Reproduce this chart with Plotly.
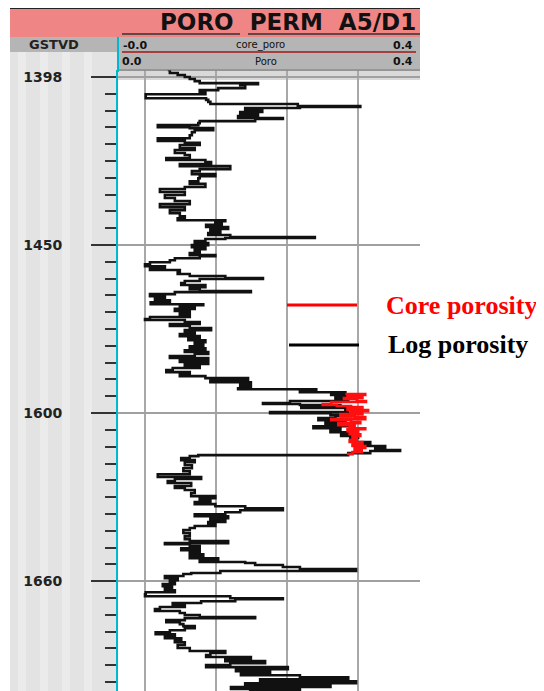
import plotly.graph_objects as go

# ---------------- data ----------------
log_depth = [
    1397.9, 1398.8, 1399.4, 1400.0, 1400.6, 1401.2, 1401.8, 1402.1, 1402.4, 1403.3,
    1403.9, 1404.5, 1405.1, 1405.4, 1406.3, 1406.8, 1407.4, 1408.0, 1408.6, 1408.9,
    1409.2, 1409.8, 1410.4, 1411.0, 1411.6, 1412.2, 1412.5, 1413.1, 1413.7, 1414.3,
    1414.9, 1415.2, 1415.8, 1416.4, 1417.3, 1418.2, 1419.0, 1419.6, 1420.2, 1421.1,
    1421.7, 1422.6, 1423.2, 1424.1, 1424.7, 1425.3, 1425.9, 1426.5, 1427.4, 1428.0,
    1428.9, 1429.5, 1430.1, 1431.0, 1431.8, 1432.7, 1433.3, 1434.2, 1435.1, 1436.0,
    1436.9, 1437.8, 1438.7, 1439.6, 1440.5, 1441.4,
    1442.0, 1442.6, 1442.9, 1443.5, 1444.0, 1444.6, 1445.2, 1445.8, 1446.4, 1447.0,
    1447.6, 1447.9, 1448.2, 1448.8, 1449.4, 1450.0, 1450.6, 1451.2, 1451.8, 1452.4,
    1453.0, 1453.3, 1453.9, 1454.5, 1455.1, 1455.7, 1456.3, 1456.8, 1457.4, 1458.0,
    1458.6, 1459.2, 1459.8, 1460.1, 1460.7, 1461.3, 1461.9, 1462.5, 1463.1, 1463.7,
    1464.0, 1464.6, 1465.2, 1465.8, 1466.4, 1467.0, 1467.6, 1467.9, 1468.5, 1469.0,
    1469.6, 1470.2, 1470.8, 1471.4, 1472.0, 1472.3, 1472.9, 1473.5, 1474.1, 1474.7,
    1475.3, 1475.9, 1476.5, 1477.1, 1477.7, 1478.3, 1478.9, 1479.5, 1480.1, 1480.7,
    1481.3, 1481.8, 1482.4, 1483.0, 1483.6, 1484.2, 1484.8,
    1485.4, 1486.0, 1486.6, 1487.2, 1487.8, 1488.4, 1489.0, 1489.6, 1490.2, 1490.8,
    1491.4, 1492.0, 1492.6, 1492.9, 1493.2, 1493.8, 1494.0, 1494.6, 1495.2, 1495.8,
    1496.4, 1497.0, 1497.3, 1497.6, 1497.9, 1498.5, 1498.8, 1499.1, 1499.7, 1500.0,
    1500.6, 1500.9, 1501.5, 1502.1, 1502.7, 1503.3, 1503.9, 1504.5, 1505.1, 1505.7,
    1506.3, 1506.8, 1507.4, 1508.0, 1508.6, 1509.2, 1509.8, 1510.4, 1511.0, 1511.3,
    1511.9, 1512.5, 1512.8, 1513.4, 1514.0, 1514.6, 1515.5, 1516.4, 1517.3, 1518.2,
    1519.0, 1519.6, 1520.2, 1520.8, 1521.7, 1522.3, 1522.9, 1523.8, 1524.7, 1525.3,
    1525.9, 1526.5, 1527.1, 1527.7, 1528.3, 1528.9, 1529.5,
    1530.1, 1530.7, 1531.3, 1531.8, 1532.4, 1533.0, 1533.6, 1534.2, 1534.8, 1535.7,
    1536.6, 1537.5, 1538.1, 1538.7, 1539.0, 1539.6, 1540.2, 1540.8, 1541.4, 1542.0,
    1542.6, 1543.2, 1543.8, 1544.3, 1544.6, 1545.2, 1545.8, 1546.4, 1547.0, 1547.6,
    1547.9, 1548.5, 1549.1, 1549.7, 1550.3, 1550.9, 1551.5, 1552.1, 1552.7, 1553.3,
    1553.9, 1554.5, 1555.1, 1555.4, 1556.0, 1556.5, 1557.1, 1557.7, 1558.3, 1558.9,
    1559.5, 1560.1, 1560.7, 1561.0, 1561.6, 1562.2, 1562.8, 1563.4, 1564.0, 1564.6,
    1565.2, 1565.8, 1566.4, 1567.0, 1567.6, 1568.2, 1569.0, 1569.9, 1570.8, 1571.4,
    1572.0, 1572.6, 1573.2, 1573.8, 1574.4, 1575.0, 1575.6, 1576.2, 1576.8, 1577.4,
    1578.0, 1578.6, 1579.2, 1579.8, 1580.4, 1581.0, 1581.5, 1582.1, 1582.7, 1583.3,
]
log_poro = [
    0.032, 0.035, 0.046, 0.056, 0.063, 0.070, 0.077, 0.159, 0.134, 0.141,
    0.103, 0.077, 0.085, 0.001, 0.001, 0.086, 0.089, 0.092, 0.215, 0.303,
    0.218, 0.141, 0.165, 0.134, 0.159, 0.131, 0.194, 0.155, 0.077, 0.075,
    0.018, 0.063, 0.096, 0.070, 0.066, 0.063, 0.018, 0.056, 0.077, 0.049,
    0.070, 0.042, 0.056, 0.063, 0.030, 0.085, 0.093, 0.049, 0.120, 0.077,
    0.066, 0.099, 0.077, 0.075, 0.063, 0.085, 0.056, 0.021, 0.056, 0.028,
    0.042, 0.063, 0.021, 0.056, 0.035, 0.049,
    0.056, 0.046, 0.113, 0.099, 0.108, 0.086, 0.117, 0.092, 0.106, 0.089,
    0.120, 0.239, 0.113, 0.085, 0.070, 0.089, 0.066, 0.085, 0.070, 0.077,
    0.063, 0.099, 0.077, 0.042, 0.035, 0.007, 0.000, 0.028, 0.007, 0.049,
    0.046, 0.063, 0.113, 0.166, 0.077, 0.056, 0.051, 0.085, 0.063, 0.077,
    0.149, 0.042, 0.007, 0.028, 0.014, 0.035, 0.008, 0.082, 0.049, 0.070,
    0.042, 0.063, 0.049, 0.063, 0.007, 0.000, 0.056, 0.077, 0.035, 0.063,
    0.093, 0.056, 0.070, 0.049, 0.077, 0.061, 0.085, 0.070, 0.082, 0.063,
    0.085, 0.056, 0.089, 0.070, 0.035, 0.089, 0.049,
    0.089, 0.056, 0.077, 0.039, 0.030, 0.063, 0.049, 0.085, 0.145, 0.092,
    0.149, 0.134, 0.149, 0.131, 0.241, 0.218, 0.282, 0.262, 0.290, 0.268,
    0.286, 0.204, 0.166, 0.218, 0.275, 0.220, 0.300, 0.282, 0.286, 0.176,
    0.261, 0.290, 0.268, 0.244, 0.282, 0.254, 0.289, 0.237, 0.275, 0.261,
    0.290, 0.276, 0.300, 0.289, 0.296, 0.317, 0.303, 0.338, 0.324, 0.359,
    0.317, 0.286, 0.075, 0.063, 0.051, 0.070, 0.056, 0.066, 0.054, 0.063,
    0.018, 0.079, 0.042, 0.032, 0.065, 0.042, 0.056, 0.070, 0.065, 0.099,
    0.077, 0.092, 0.070, 0.099, 0.141, 0.194, 0.134,
    0.113, 0.070, 0.117, 0.092, 0.113, 0.089, 0.099, 0.070, 0.063, 0.054,
    0.063, 0.056, 0.063, 0.117, 0.028, 0.063, 0.077, 0.051, 0.077, 0.063,
    0.082, 0.063, 0.103, 0.077, 0.141, 0.155, 0.194, 0.218, 0.297, 0.106,
    0.065, 0.054, 0.028, 0.046, 0.035, 0.042, 0.025, 0.038, 0.028, 0.042,
    0.001, 0.000, 0.120, 0.194, 0.127, 0.079, 0.039, 0.056, 0.021, 0.014,
    0.049, 0.056, 0.077, 0.155, 0.056, 0.030, 0.049, 0.054, 0.070, 0.056,
    0.035, 0.015, 0.042, 0.028, 0.051, 0.042, 0.056, 0.046, 0.063, 0.113,
    0.092, 0.086, 0.149, 0.113, 0.169, 0.120, 0.086, 0.201, 0.128, 0.176,
    0.135, 0.218, 0.286, 0.162, 0.297, 0.141, 0.261, 0.121, 0.218, 0.148,
]

core_depth = [
    1494.3, 1494.6, 1494.9, 1495.5, 1495.8, 1496.4, 1496.7, 1497.3, 1497.6, 1497.9,
    1498.2, 1498.5, 1499.1, 1499.4, 1500.0, 1500.3, 1500.9, 1501.2, 1501.8, 1502.1,
    1502.7, 1503.0, 1503.6, 1503.9, 1504.5, 1504.8, 1505.4, 1505.7, 1506.3, 1506.8,
    1507.4, 1508.0, 1508.6, 1509.2, 1509.8, 1510.4, 1511.0, 1511.6, 1512.2, 1512.5,
]
core_poro = [
    0.282, 0.310, 0.285, 0.306, 0.280, 0.298, 0.311, 0.262, 0.250, 0.270,
    0.290, 0.306, 0.285, 0.314, 0.290, 0.306, 0.275, 0.295, 0.310, 0.262,
    0.290, 0.303, 0.272, 0.295, 0.288, 0.310, 0.285, 0.300, 0.288, 0.303,
    0.292, 0.298, 0.288, 0.306, 0.292, 0.310, 0.295, 0.305, 0.292, 0.286,
]

depth_ticks = [1400, 1450, 1500, 1550]
depth_tick_labels = ["1398", "1450", "1600", "1660"]
poro_grid = [0.0, 0.1, 0.2, 0.3]

# ---------------- layout helpers (page pixel -> paper) ----------------
OFF = 8                       # default page body margin
W, H = 536, 683               # figure size inside the 544x691 window
L, R, T, B = 110, 124, 62, 0
PW, PH = W - L - R, H - T - B


def px(x):
    return (x - OFF - L) / PW


def py(y):
    return (H - B - (y - OFF)) / PH


fig = go.Figure()

fig.add_trace(go.Scatter(
    x=log_poro, y=log_depth, mode="lines", name="Log porosity",
    line=dict(color="#111111", width=2.6, shape="hv"), showlegend=False,
))
fig.add_trace(go.Scatter(
    x=core_poro, y=core_depth, mode="lines", name="Core porosity",
    line=dict(color="#FF1010", width=2.6, shape="hv"), showlegend=False,
))

shapes = []


def rect(x0, y0, x1, y1, color, layer="below"):
    shapes.append(dict(type="rect", xref="paper", yref="paper",
                       x0=px(x0), x1=px(x1), y0=py(y1), y1=py(y0),
                       fillcolor=color, line=dict(width=0), layer=layer))


def hline(x0, x1, y, color, width, layer="above"):
    shapes.append(dict(type="line", xref="paper", yref="paper",
                       x0=px(x0), x1=px(x1), y0=py(y), y1=py(y),
                       line=dict(color=color, width=width), layer=layer))


def vline(x, y0, y1, color, width, layer="above"):
    shapes.append(dict(type="line", xref="paper", yref="paper",
                       x0=px(x), x1=px(x), y0=py(y0), y1=py(y1),
                       line=dict(color=color, width=width), layer=layer))


# depth track background
rect(10, 52, 118, 691, "#E3E3E3")
for sx in (18, 40, 62, 84):
    rect(sx, 52, sx + 8, 691, "#EBEBEB")
# header bands
rect(10, 9, 420, 37, "#F08585")
rect(10, 37, 420, 52, "#B5B5B5")
rect(118, 52, 420, 71, "#B5B5B5")
rect(118, 71, 420, 80, "#D9D9D9")
hline(10, 420, 8, "#222222", 2)
hline(122, 240, 34, "#333333", 1.5)
hline(248, 420, 34, "#333333", 1.5)
hline(122, 416, 52, "#A01818", 1.5)
hline(118, 420, 70, "#777777", 1)
vline(118, 37, 72, "#00B8D0", 2)

# legend (drawn manually)
hline(287, 357, 305, "#FF0000", 3)
hline(289, 359, 345, "#000000", 3)

annotations = [
    dict(text="PORO  PERM  A5/D1", x=px(288), y=py(22), xref="paper", yref="paper",
         showarrow=False, xanchor="center", yanchor="middle",
         font=dict(family="DejaVu Sans", size=23, color="#111111", weight="bold")),
    dict(text="GSTVD", x=px(54), y=py(44), xref="paper", yref="paper",
         showarrow=False, xanchor="center", yanchor="middle",
         font=dict(family="DejaVu Sans", size=13, color="#222222", weight="bold")),
    dict(text="-0.0", x=px(121), y=py(45), xref="paper", yref="paper",
         showarrow=False, xanchor="left", yanchor="middle",
         font=dict(family="DejaVu Sans", size=11, color="#111111", weight="bold")),
    dict(text="core_poro", x=px(260), y=py(45), xref="paper", yref="paper",
         showarrow=False, xanchor="center", yanchor="middle",
         font=dict(family="DejaVu Sans", size=10, color="#111111")),
    dict(text="0.4", x=px(415), y=py(45), xref="paper", yref="paper",
         showarrow=False, xanchor="right", yanchor="middle",
         font=dict(family="DejaVu Sans", size=11, color="#111111", weight="bold")),
    dict(text="0.0", x=px(120), y=py(62), xref="paper", yref="paper",
         showarrow=False, xanchor="left", yanchor="middle",
         font=dict(family="DejaVu Sans", size=11, color="#111111", weight="bold")),
    dict(text="Poro", x=px(266), y=py(62), xref="paper", yref="paper",
         showarrow=False, xanchor="center", yanchor="middle",
         font=dict(family="DejaVu Sans", size=10, color="#111111")),
    dict(text="0.4", x=px(415), y=py(62), xref="paper", yref="paper",
         showarrow=False, xanchor="right", yanchor="middle",
         font=dict(family="DejaVu Sans", size=11, color="#111111", weight="bold")),
    dict(text="Core porosity", x=px(384), y=py(305), xref="paper", yref="paper",
         showarrow=False, xanchor="left", yanchor="middle",
         font=dict(family="Liberation Serif", size=26, color="#FF0000", weight="bold")),
    dict(text="Log porosity", x=px(386), y=py(344), xref="paper", yref="paper",
         showarrow=False, xanchor="left", yanchor="middle",
         font=dict(family="Liberation Serif", size=26, color="#000000", weight="bold")),
]

fig.update_layout(
    width=W, height=H,
    margin=dict(l=L, r=R, t=T, b=B, autoexpand=False),
    paper_bgcolor="white", plot_bgcolor="white",
    shapes=shapes, annotations=annotations, showlegend=False,
    xaxis=dict(
        range=[-0.038, 0.387], tickvals=poro_grid, showticklabels=False,
        showgrid=True, gridcolor="#A8A8A8", gridwidth=2, zeroline=False,
        showline=False, ticks="", fixedrange=True, automargin=False,
    ),
    yaxis=dict(
        range=[1582.7, 1397.9], tickvals=depth_ticks, ticktext=depth_tick_labels,
        showgrid=True, gridcolor="#A0A0A0", gridwidth=2, zeroline=False,
        showline=True, linecolor="#00B8D0", linewidth=2,
        ticks="outside", ticklen=25, tickwidth=2, tickcolor="#333333",
        ticklabelstandoff=26, automargin=False,
        tickfont=dict(family="DejaVu Sans", size=14, color="#222222", weight="bold"),
        minor=dict(ticks="outside", ticklen=11, tickwidth=2, tickcolor="#333333",
                   dtick=5, tick0=1400, showgrid=False),
        fixedrange=True,
    ),
)

fig.write_html("out.html")
